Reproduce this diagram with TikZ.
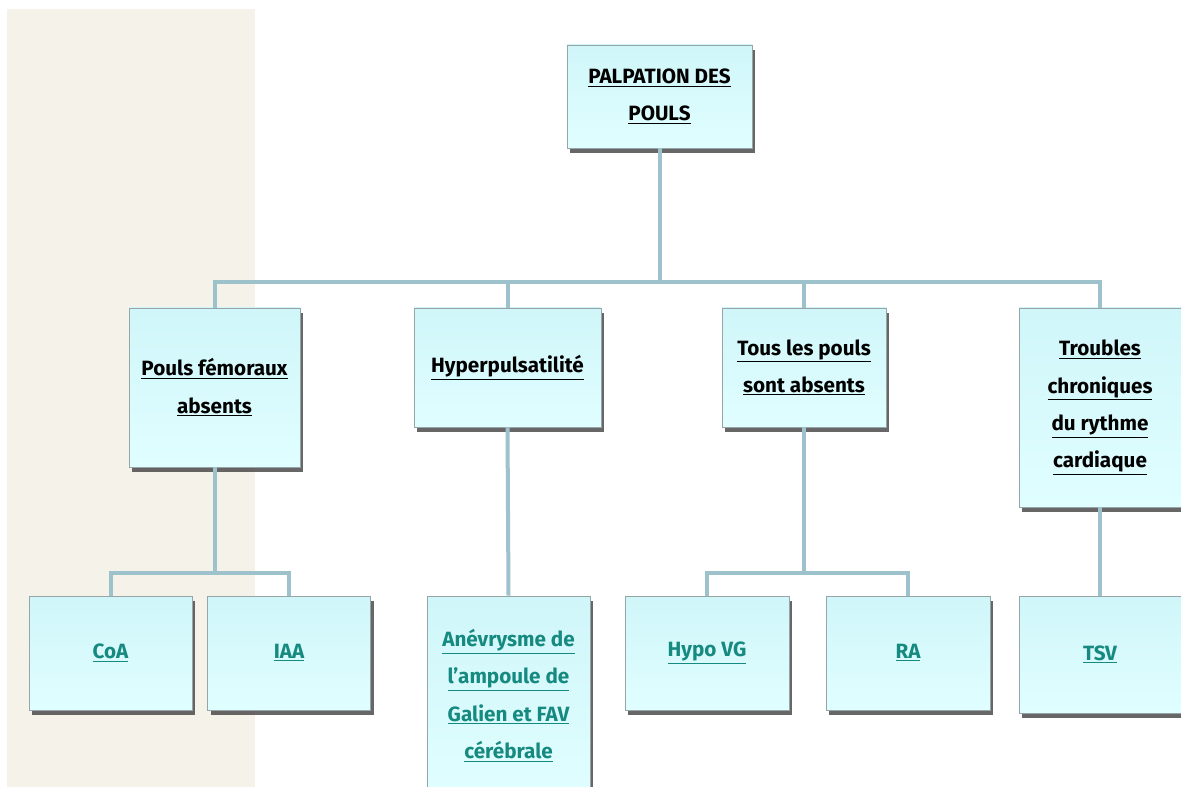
\documentclass[tikz,border=0pt]{standalone}
\usepackage{fontspec}
\setmainfont{Fira Sans}
\usetikzlibrary{shadows}
\definecolor{panelbg}{RGB}{245,242,233}
\definecolor{boxtop}{RGB}{208,246,249}
\definecolor{boxbot}{RGB}{224,254,255}
\definecolor{boxline}{RGB}{150,165,168}
\definecolor{linkcol}{RGB}{158,194,204}
\definecolor{leaftext}{RGB}{22,138,128}
\tikzset{
  boxnode/.style={draw=boxline, line width=0.6pt, top color=boxtop, bottom color=boxbot,
    drop shadow={shadow xshift=2.6pt, shadow yshift=-3.6pt, fill=black!70, opacity=0.85},
    align=center, inner sep=2pt, font=\fontsize{15.5}{28}\selectfont\bfseries},
  leafnode/.style={boxnode, text=leaftext},
  link/.style={draw=linkcol, line width=3pt},
}
\newcommand{\ul}[1]{\underline{#1}}
\begin{document}
\begin{tikzpicture}[x=0.75pt,y=0.75pt,yscale=-1,xscale=1]
\useasboundingbox (0,0) rectangle (1181,787);
%Shape: Rectangle [background panel]
\fill [panelbg] (7,9) rectangle (255,787);

% Top node
\node [boxnode, minimum width=185*0.75pt, minimum height=103*0.75pt] (root) at (659.5,96.5) {\ul{PALPATION DES}\\\ul{POULS}};

% Second row
\node [boxnode, minimum width=171*0.75pt, minimum height=159*0.75pt] (pf) at (214.5,387.5) {\ul{Pouls fémoraux}\\\ul{absents}};
\node [boxnode, minimum width=187*0.75pt, minimum height=119*0.75pt] (hy) at (507.5,367.5) {\ul{Hyperpulsatilité}};
\node [boxnode, minimum width=164*0.75pt, minimum height=119*0.75pt] (tp) at (804,367.5) {\ul{Tous les pouls}\\\ul{sont absents}};
\node [boxnode, minimum width=162*0.75pt, minimum height=199*0.75pt] (tr) at (1100,407.5) {\ul{Troubles}\\\ul{chroniques}\\\ul{du rythme}\\\ul{cardiaque}};

% Third row
\node [leafnode, minimum width=163*0.75pt, minimum height=114*0.75pt] (coa) at (110.5,653) {\ul{CoA}};
\node [leafnode, minimum width=163*0.75pt, minimum height=114*0.75pt] (iaa) at (289,653) {\ul{IAA}};
\node [leafnode, minimum width=163*0.75pt, minimum height=199*0.75pt] (anv) at (508.5,695.5) {\ul{Anévrysme de}\\\ul{l'ampoule de}\\\ul{Galien et FAV}\\\ul{cérébrale}};
\node [leafnode, minimum width=164*0.75pt, minimum height=114*0.75pt] (hvg) at (707,653) {\ul{Hypo VG}};
\node [leafnode, minimum width=164*0.75pt, minimum height=114*0.75pt] (ra) at (908,653) {\ul{RA}};
\node [leafnode, minimum width=162*0.75pt, minimum height=117*0.75pt] (tsv) at (1100,654.5) {\ul{TSV}};

% Connectors
\coordinate (busA) at (659.5,282);
\coordinate (busB) at (214.5,573);
\coordinate (busC) at (804,573);
\draw [link] (root.south) -- (busA);
\foreach \n in {pf,hy,tp,tr}
  \draw [link] (busA) -| (\n.north);
\draw [link] (pf.south) -- (busB);
\foreach \n in {coa,iaa}
  \draw [link] (busB) -| (\n.north);
\draw [link] (tp.south) -- (busC);
\foreach \n in {hvg,ra}
  \draw [link] (busC) -| (\n.north);
\draw [link] (hy.south) -- (anv.north);
\draw [link] (tr.south) -- (tsv.north);

\end{tikzpicture}
\end{document}
